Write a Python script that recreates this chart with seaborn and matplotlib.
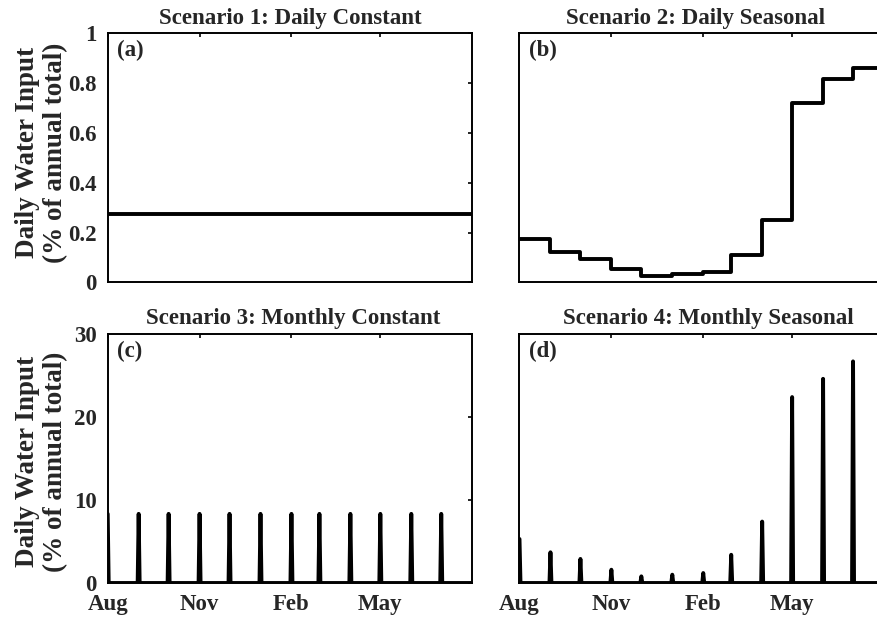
import numpy as np
import pandas as pd
import seaborn as sns
import matplotlib.pyplot as plt

# Water year starting in August
month_names = ["Aug", "Sep", "Oct", "Nov", "Dec", "Jan",
               "Feb", "Mar", "Apr", "May", "Jun", "Jul"]
days_in_month = [31, 30, 31, 30, 31, 31, 28, 31, 30, 31, 30, 31]
tick_days = [0, 92, 184, 273]
tick_labels = ["Aug", "Nov", "Feb", "May"]

# Scenario 1: same daily input all year (% of annual total per day)
s1_daily = 0.274
# Scenario 2: daily input, constant within each month (% per day)
s2_daily = [0.175, 0.122, 0.095, 0.055, 0.024, 0.032,
            0.041, 0.111, 0.249, 0.722, 0.818, 0.861]
# Scenario 3: whole monthly input applied on the first day of the month
s3_monthly = [8.33, 8.33, 8.33, 8.33, 8.33, 8.33,
              8.33, 8.33, 8.33, 8.33, 8.33, 8.33]
# Scenario 4: seasonal monthly input applied on the first day of the month
s4_monthly = [5.3, 3.7, 2.9, 1.6, 0.8, 1.0,
              1.2, 3.4, 7.4, 22.4, 24.6, 26.7]

titles = ["Scenario 1: Daily Constant", "Scenario 2: Daily Seasonal",
          "Scenario 3: Monthly Constant", "Scenario 4: Monthly Seasonal"]
panel_tags = ["(a)", "(b)", "(c)", "(d)"]

# Daily tables
day = np.arange(366)
month_start = np.concatenate([[0], np.cumsum(days_in_month)[:-1]])

s1 = np.full(day.size, s1_daily)
s2 = np.append(np.repeat(s2_daily, days_in_month), s2_daily[-1])
s3 = np.zeros(day.size)
s3[month_start] = s3_monthly
s4 = np.zeros(day.size)
s4[month_start] = s4_monthly

df = pd.DataFrame({"day": day, "s1": s1, "s2": s2, "s3": s3, "s4": s4})

sns.set_style("white")
plt.rcParams["font.family"] = ["Liberation Serif", "DejaVu Serif"]
plt.rcParams["font.weight"] = "bold"
plt.rcParams["axes.titleweight"] = "bold"
plt.rcParams["axes.labelweight"] = "bold"

fig = plt.figure(figsize=(8.78, 6.21), dpi=100)
W, H = 878.0, 621.0
col_left = [107.7, 519.5]
row_top = [33.3, 334.0]
ax_w, ax_h = 364.5, 249.0

axes = []
for r in range(2):
    for c in range(2):
        ax = fig.add_axes([col_left[c] / W, 1 - (row_top[r] + ax_h) / H,
                           ax_w / W, ax_h / H])
        axes.append(ax)

line_kw = dict(color="black", linewidth=2.8, estimator=None)
sns.lineplot(data=df, x="day", y="s1", ax=axes[0], **line_kw)
sns.lineplot(data=df, x="day", y="s2", ax=axes[1], drawstyle="steps-post", **line_kw)
sns.lineplot(data=df, x="day", y="s3", ax=axes[2], **line_kw)
sns.lineplot(data=df, x="day", y="s4", ax=axes[3], **line_kw)

title_x = [0.501, 0.482, 0.51, 0.518]
label_y = {0: 0.52, 2: 0.487}
for i, ax in enumerate(axes):
    top_row = i < 2
    ax.set_xlim(0, 365)
    if top_row:
        ax.set_ylim(0, 1)
        ax.set_yticks([0, 0.2, 0.4, 0.6, 0.8, 1])
        ax.set_yticklabels(["0", "0.2", "0.4", "0.6", "0.8", "1"])
    else:
        ax.set_ylim(0, 30)
        ax.set_yticks([0, 10, 20, 30])
        ax.set_yticklabels(["0", "10", "20", "30"])
    ax.set_xticks(tick_days)
    ax.set_xticklabels(tick_labels)
    ax.tick_params(direction="in", top=True, right=True, length=3, width=1.2,
                   labelsize=16.5, pad=8, color="black",
                   labelbottom=not top_row, labelleft=(i % 2 == 0))
    for sp in ax.spines.values():
        sp.set_linewidth(1.4)
        sp.set_color("black")
    ax.set_xlabel("")
    if i % 2 == 0:
        ax.set_ylabel("Daily Water Input\n(% of annual total)", fontsize=19.5,
                      linespacing=1.15)
        ax.yaxis.set_label_coords(-0.109, label_y[i])
    else:
        ax.set_ylabel("")
    ax.set_title(titles[i], fontsize=16.5, pad=7, x=title_x[i])
    ax.text(0.025, 0.93, panel_tags[i], transform=ax.transAxes,
            fontsize=16.5, fontweight="bold", va="center", ha="left")

fig.savefig("out.png", dpi=100)
